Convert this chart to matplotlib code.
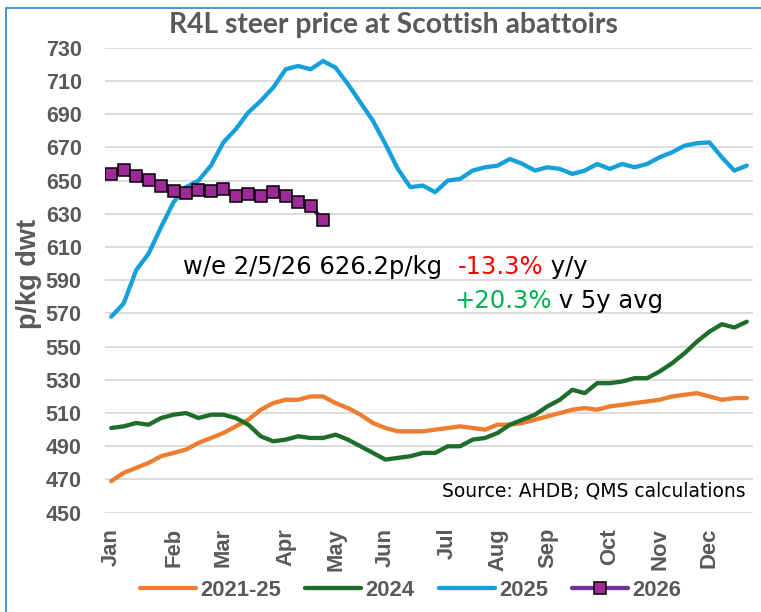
import matplotlib
matplotlib.use("Agg")
import matplotlib.pyplot as plt
from matplotlib.patches import Rectangle
import numpy as np

plt.rcParams['font.family'] = ['Liberation Sans', 'DejaVu Sans']

# ---- Data (weekly, p/kg dwt) ----
weeks = np.arange(52)
month_ticks = [0, 5, 9, 14, 18, 22, 27, 31, 35, 40, 44, 48]
month_labels = ["Jan", "Feb", "Mar", "Apr", "May", "Jun",
                "Jul", "Aug", "Sep", "Oct", "Nov", "Dec"]

avg_2021_25 = [469, 474, 477, 480, 484, 486, 488, 492, 495, 498, 502, 506,
               512, 516, 518, 518, 520, 520, 516, 513, 509, 504, 501, 499,
               499, 499, 500, 501, 502, 501, 500, 503, 503, 504, 506, 508,
               510, 512, 513, 512, 514, 515, 516, 517, 518, 520, 521, 522,
               520, 518, 519, 519]
y2024 = [501, 502, 504, 503, 507, 509, 510, 507, 509, 509, 507, 503,
         496, 493, 494, 496, 495, 495, 497, 494, 490, 486, 482, 483,
         484, 486, 486, 490, 490, 494, 495, 498, 503, 506, 509, 514,
         518, 524, 522, 528, 528, 529, 531, 531, 535, 540, 546, 553,
         559, 563.5, 561.5, 565]
y2025 = [568, 576, 596, 606, 622, 637, 646, 650, 659, 673, 681, 691,
         698, 706, 717, 719, 717, 722, 718, 708, 697, 686, 672, 657,
         646, 647, 643, 650, 651, 656, 658, 659, 663, 660, 656, 658,
         657, 654, 656, 660, 657, 660, 658, 660, 664, 667, 671, 672.5,
         673, 664, 656, 659]
y2026 = [654, 656.5, 653, 650.5, 647, 643.7, 642.5, 644.5, 643.7, 645,
         640.5, 641.7, 641, 643, 641, 637, 634.7, 626.2]

W, H = 761, 612
fig = plt.figure(figsize=(W / 100, H / 100), dpi=100)
ax = fig.add_axes([105 / W, 1 - 512.7 / H, 648 / W, (512.7 - 47.7) / H])

ax.plot(weeks, avg_2021_25, color="#ED7D31", lw=3.1, label="2021-25",
        solid_capstyle="round", zorder=3)
ax.plot(weeks, y2024, color="#1E6E2A", lw=3.1, label="2024",
        solid_capstyle="round", zorder=4)
ax.plot(weeks, y2025, color="#15A0DB", lw=3.1, label="2025",
        solid_capstyle="round", zorder=5)
ax.plot(weeks[:len(y2026)], y2026, color="#7030A0", lw=3.1, marker="s",
        markersize=8.9, markerfacecolor="#9E2A9A", markeredgecolor="black",
        markeredgewidth=1.1, label="2026", solid_capstyle="round", zorder=6)

ax.set_xlim(-0.5, 51.5)
ax.set_ylim(450, 730)
ax.set_yticks(np.arange(450, 731, 20))
ax.set_xticks(month_ticks)
ax.set_xticklabels(month_labels, rotation=90, va="top", ha="center")
ax.grid(axis="y", color="#D9D9D9", lw=1.3)
ax.set_axisbelow(True)
for s in ax.spines.values():
    s.set_visible(False)
ax.tick_params(axis="y", length=0, pad=16.8, labelsize=15.5, labelcolor="#595959")
ax.tick_params(axis="x", length=0, pad=11, labelsize=15.8, labelcolor="#595959")
for lab in ax.get_xticklabels() + ax.get_yticklabels():
    lab.set_fontweight("bold")

# annotations
ann_font = dict(family="DejaVu Sans", fontsize=17.5)
t1 = ax.text(5.76, 594, "w/e 2/5/26 626.2p/kg  ", color="black",
             va="baseline", ha="left", **ann_font)
t2 = ax.annotate("-13.3%", xy=(1, 0), xycoords=t1, va="bottom", ha="left",
                 color="#FF0000", **ann_font)
ax.annotate(" y/y", xy=(1, 0), xycoords=t2, va="bottom", ha="left",
            color="black", **ann_font)
t4 = ax.text(27.5, 573, "+20.3%", color="#00B050", va="baseline", ha="left",
             **ann_font)
ax.annotate(" v 5y avg", xy=(1, 0), xycoords=t4, va="bottom", ha="left",
            color="black", **ann_font)
ax.text(50.87, 460, "Source: AHDB; QMS calculations", ha="right",
        va="baseline", family="DejaVu Sans", fontsize=13.5, color="black")

fig.text(393.5 / W, 1 - 32.7 / H, "R4L steer price at Scottish abattoirs",
         ha="center", va="baseline", family="Lato", fontweight="bold",
         fontsize=20.3, color="#595959")
fig.text(29 / W, 1 - 274 / H, "p/kg dwt", rotation=90, ha="center",
         va="center", fontweight="bold", fontsize=19.5, color="#595959")

fig.legend(loc="center", bbox_to_anchor=(410.5 / W, 1 - 590 / H), ncol=4,
           frameon=False, handlelength=2.55, handletextpad=0.2,
           columnspacing=1.1, prop=dict(weight="bold", size=15.8),
           labelcolor="#595959")

fig.add_artist(Rectangle((6 / W, -0.1), 2, 1.1 - 8 / H,
                         transform=fig.transFigure, fill=False,
                         edgecolor="#3B8BD0", lw=1.3))

fig.savefig("out.png", dpi=100)
